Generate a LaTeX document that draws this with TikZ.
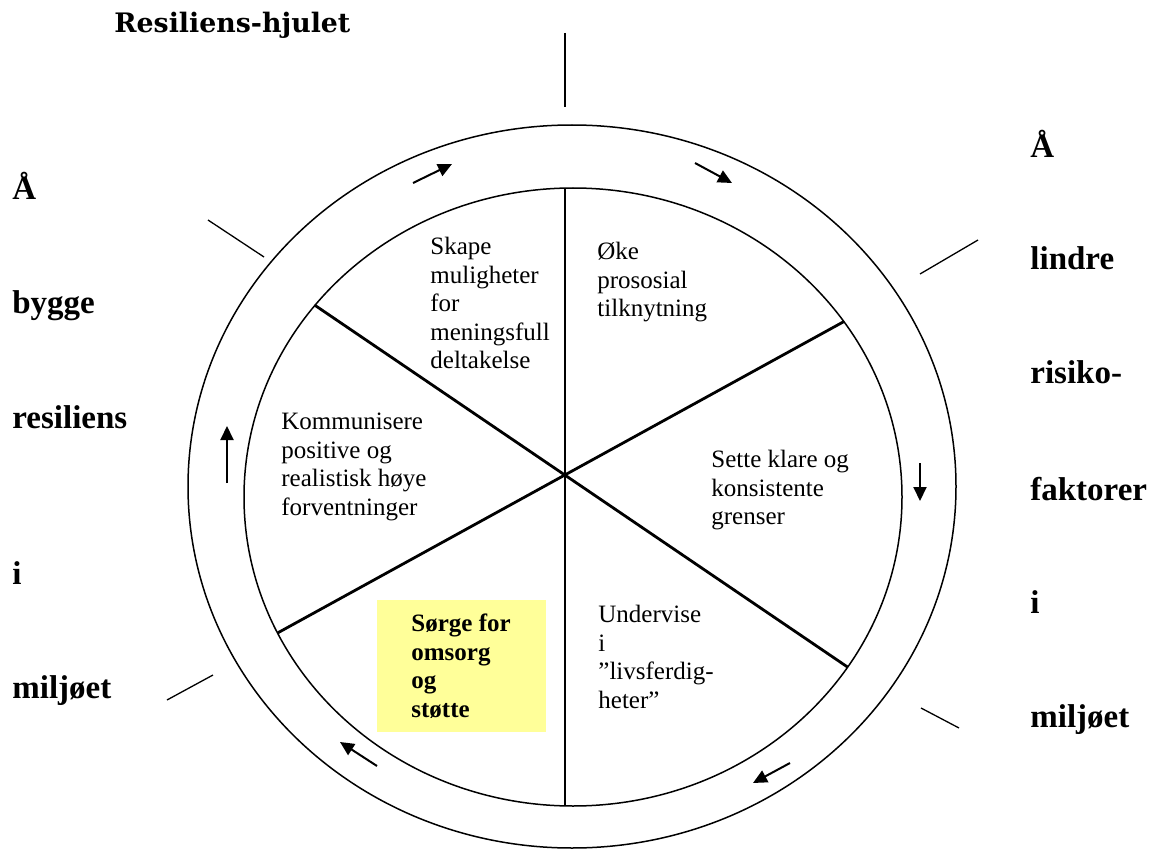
\documentclass[tikz,border=0pt]{standalone}
\usepackage{fontspec}
\setmainfont{Liberation Serif}
\newfontfamily\titlefont{DejaVu Serif}
\usetikzlibrary{arrows.meta}
\definecolor{notebg}{RGB}{255,255,153}
\begin{document}
\begin{tikzpicture}[x=0.5pt,y=-0.5pt,
  ring/.style={line width=0.75pt},
  spoke/.style={line width=1.4pt},
  tickline/.style={line width=0.65pt},
  flow/.style={line width=1pt,-{Triangle[length=7pt,width=6.5pt]}},
  seg/.style={font=\fontsize{12.5}{14.3}\selectfont, align=left, anchor=north west, inner sep=0pt},
  side/.style={font=\fontsize{16.5}{20}\selectfont\bfseries, anchor=base west, inner sep=0pt}]
\useasboundingbox (0,0) rectangle (1152,856);

% title
\node[anchor=base west, inner sep=0pt, font=\titlefont\bfseries\fontsize{13.4}{16}\selectfont] (title) at (114,33) {Resiliens-hjulet};

% the wheel: outer rim and hub
\draw[ring] (572,486.5) ellipse [x radius=192pt, y radius=180.75pt];
\draw[ring] (573,497) ellipse [x radius=164.5pt, y radius=154.5pt];

% spokes
\coordinate (hub) at (565,475);
\coordinate (sN) at (565,188);
\coordinate (sS) at (565,806);
\coordinate (sNW) at (314.5,305);
\coordinate (sSE) at (847.5,667);
\coordinate (sNE) at (844,321.5);
\coordinate (sSW) at (277.5,633);
\draw[spoke] (sN) -- (sS);
\draw[spoke] (sNW) -- (sSE);
\draw[spoke] (sNE) -- (sSW);

% short marks around the rim
\coordinate (tA1) at (565,33);   \coordinate (tA2) at (565,107);
\coordinate (tB1) at (208,220);  \coordinate (tB2) at (264,257);
\coordinate (tC1) at (920,274);  \coordinate (tC2) at (978,240);
\coordinate (tD1) at (167,700);  \coordinate (tD2) at (213,675);
\coordinate (tE1) at (921,708);  \coordinate (tE2) at (959,728);
\draw[tickline] (tA1) -- (tA2);
\draw[tickline] (tB1) -- (tB2);
\draw[tickline] (tC1) -- (tC2);
\draw[tickline] (tD1) -- (tD2);
\draw[tickline] (tE1) -- (tE2);

% direction of turn
\coordinate (a1s) at (413,183); \coordinate (a1e) at (452,164);
\coordinate (a2s) at (695,163); \coordinate (a2e) at (732,183);
\coordinate (a3s) at (920,463); \coordinate (a3e) at (920,501);
\coordinate (a4s) at (790,763); \coordinate (a4e) at (753,783);
\coordinate (a5s) at (377,766); \coordinate (a5e) at (340,742);
\coordinate (a6s) at (227,483); \coordinate (a6e) at (227,426);
\draw[flow] (a1s) -- (a1e);
\draw[flow] (a2s) -- (a2e);
\draw[flow] (a3s) -- (a3e);
\draw[flow] (a4s) -- (a4e);
\draw[flow] (a5s) -- (a5e);
\draw[flow] (a6s) -- (a6e);

% segment texts
\node[seg] (skape) at (430,234) {\strut Skape\\muligheter\\for\\meningsfull\\deltakelse};
\node[seg] (oke) at (597,239) {\strut Øke\\prososial\\tilknytning};
\node[seg] (sette) at (711,447) {\strut Sette klare og\\konsistente\\grenser};
\node[seg] (undervise) at (598,602) {\strut Undervise\\i\\”livsferdig-\\heter”};
\node[seg] (komm) at (281,409) {\strut Kommunisere\\positive og\\realistisk høye\\forventninger};

\fill[notebg] (377,600) rectangle (546,732);
\node[seg, font=\fontsize{12.5}{14.3}\selectfont\bfseries] (sorge) at (411,611) {\strut Sørge for\\omsorg\\og\\støtte};

% left column
\node[side] (lA) at (12,199) {Å};
\node[side] (lB) at (12,313) {bygge};
\node[side] (lC) at (12,428) {resiliens};
\node[side] (lD) at (12,584) {i};
\node[side] (lE) at (12,698) {miljøet};

% right column
\node[side] (rA) at (1030,157) {Å};
\node[side] (rB) at (1030,270) {lindre};
\node[side] (rC) at (1030,383) {risiko-};
\node[side] (rD) at (1030,500) {faktorer};
\node[side] (rE) at (1030,613) {i};
\node[side] (rF) at (1030,727) {miljøet};
\end{tikzpicture}
\end{document}
